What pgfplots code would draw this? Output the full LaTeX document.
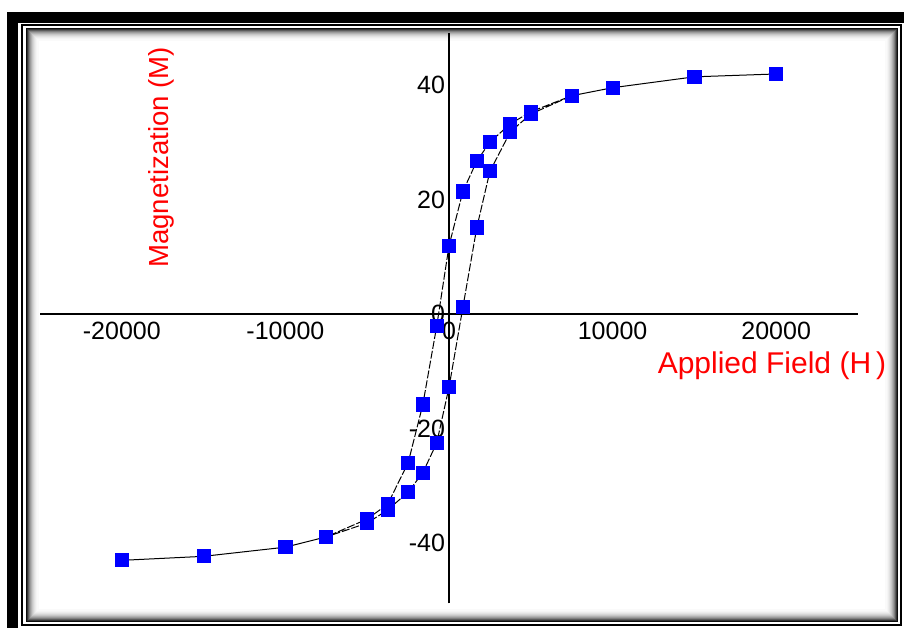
\documentclass[border=0pt]{standalone}
\usepackage{pgfplots}
\pgfplotsset{compat=1.18}
\usepackage{fontspec}
\setmainfont{Liberation Sans}
\definecolor{markblue}{RGB}{0,0,255}
\definecolor{labred}{RGB}{255,0,0}
\pgfplotstableread{
H M
20000 41.9
15000 41.4
10000 39.5
7500 38.1
5000 35.3
3750 33.2
2500 30.0
1700 26.7
850 21.4
0 11.9
-750 -2.1
-1600 -15.8
-2500 -26.0
-3750 -33.2
-5000 -35.8
-7500 -38.9
-10000 -40.7
-15000 -42.3
-20000 -43.0
-15000 -42.3
-10000 -40.7
-7500 -38.9
-5000 -36.5
-3750 -34.2
-2500 -31.1
-1600 -27.7
-750 -22.5
0 -12.8
850 1.2
1700 15.1
2500 24.9
3750 31.8
5000 34.9
7500 38.1
10000 39.5
15000 41.4
20000 41.9
}\loop
\begin{document}
\begin{tikzpicture}
\useasboundingbox (0,0) rectangle (452pt,314pt);
\begin{scope}[x=0.5pt,y=-0.5pt,yshift=314pt]
  \fill[white] (0,0) rectangle (904,628);
  \fill[black] (7,12) rectangle (904,23);
  \fill[black] (7,12) rectangle (18,628);
  \draw[line width=1pt] (22,25) rectangle (901,625);
  \foreach \i/\c in {0/95,1/80,2/64,3/50,4/39,5/30,6/22,7/16,8/11,9/7,10/4,11/2}{
    \draw[black!\c, line width=0.55pt] (27+\i,29+\i) rectangle (897-\i,621-\i);
  }
\end{scope}
\begin{axis}[
  at={(224.5pt,157pt)}, anchor=origin,
  scale only axis, width=409pt, height=285pt,
  xmin=-25000, xmax=25000, ymin=-50.5, ymax=49,
  axis lines=middle,
  axis line style={-, line width=1.2pt},
  xtick={-20000,-10000,0,10000,20000},
  ytick={-40,-20,0,20,40},
  major tick length=0pt,
  hide obscured x ticks=false, hide obscured y ticks=false,
  scaled x ticks=false, scaled y ticks=false,
  /pgf/number format/assume math mode=true,
  /pgf/number format/set thousands separator={},
  tick label style={font=\fontsize{12.5}{14}\selectfont, black},
  xticklabel style={anchor=north, yshift=-0.5pt},
  yticklabel style={anchor=east, xshift=1.5pt},
  clip=false,
]
\addplot[black, line width=0.5pt, dash pattern=on 4pt off 1pt,
  mark=square*, mark size=3.3pt, mark options={solid, draw=markblue, fill=markblue}]
  table[x=H, y=M] {\loop};
\end{axis}
\node[labred, rotate=90, font=\fontsize{13.8}{16}\selectfont] at (80.5pt,235.3pt) {Magnetization (M)};
\node[labred, font=\fontsize{15}{18}\selectfont] at (386pt,131pt) {Applied Field (H\thinspace)};
\end{tikzpicture}
\end{document}
